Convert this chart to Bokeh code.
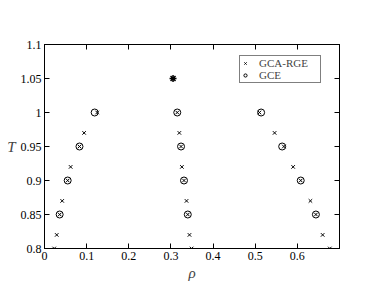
from bokeh.plotting import figure
from bokeh.models import LinearAxis, Legend, LegendItem, FixedTicker, ColumnDataSource
from bokeh.embed import file_html
from bokeh.resources import INLINE

# GCA-RGE data (three branches)
T_rge = [0.80, 0.82, 0.85, 0.87, 0.90, 0.92, 0.95, 0.97, 1.00]
rho_rge_left = [0.023, 0.029, 0.036, 0.042, 0.055, 0.062, 0.083, 0.094, 0.125]
rho_rge_mid = [0.349, 0.344, 0.340, 0.337, 0.331, 0.326, 0.324, 0.320, 0.315]
rho_rge_right = [0.677, 0.660, 0.644, 0.631, 0.608, 0.590, 0.568, 0.546, 0.510]

# GCE data
T_gce = [0.85, 0.90, 0.95, 1.00]
rho_gce_left = [0.036, 0.055, 0.083, 0.119]
rho_gce_mid = [0.340, 0.331, 0.324, 0.315]
rho_gce_right = [0.644, 0.608, 0.564, 0.514]

# critical point
T_crit = [1.05]
rho_crit = [0.305]

x_ticks = [0, 0.1, 0.2, 0.3, 0.4, 0.5, 0.6, 0.7]
y_ticks = [0.8, 0.85, 0.9, 0.95, 1.0, 1.05, 1.1]

SERIF = "Liberation Serif"

p = figure(width=368, height=283, output_backend="svg", toolbar_location=None,
           x_range=(0, 0.7), y_range=(0.8, 1.1),
           min_border_left=44, min_border_right=29, min_border_top=44, min_border_bottom=34,
           x_axis_label="ρ", y_axis_label="T")
p.grid.visible = False
p.outline_line_color = "black"
p.background_fill_color = "white"

src_rge = ColumnDataSource(dict(
    x=rho_rge_left + rho_rge_mid + rho_rge_right,
    y=T_rge * 3))
src_gce = ColumnDataSource(dict(
    x=rho_gce_left + rho_gce_mid + rho_gce_right,
    y=T_gce * 3))

r1 = p.scatter("x", "y", source=src_rge, marker="x", size=5, line_color="black", line_width=1)
r2 = p.scatter("x", "y", source=src_gce, marker="circle", size=7, fill_color=None,
               line_color="black", line_width=1)
p.scatter(rho_crit, T_crit, marker="asterisk", size=7, line_color="black", line_width=1.5)

def style(ax):
    ax.major_tick_in = 5
    ax.major_tick_out = 0
    ax.minor_tick_in = 3
    ax.minor_tick_out = 0
    ax.axis_line_color = "black"
    ax.major_tick_line_color = "black"
    ax.minor_tick_line_color = "black"
    ax.major_label_text_font = SERIF
    ax.major_label_text_font_size = "12px"
    ax.major_label_standoff = 3
    ax.major_label_text_color = "black"
    ax.axis_label_text_font = SERIF
    ax.axis_label_text_font_style = "italic"
    ax.axis_label_text_font_size = "15px"
    ax.axis_label_standoff = 2

p.xaxis.ticker = FixedTicker(ticks=x_ticks, num_minor_ticks=2)
p.yaxis.ticker = FixedTicker(ticks=y_ticks, num_minor_ticks=2)
p.xaxis.major_label_overrides = {0.7: ""}
p.yaxis.major_label_overrides = {1.0: "1", 1.1: "1.1", 0.8: "0.8"}
style(p.xaxis[0])
style(p.yaxis[0])
p.yaxis.axis_label_orientation = "horizontal"

top = LinearAxis(ticker=FixedTicker(ticks=x_ticks, num_minor_ticks=2))
style(top)
top.major_label_overrides = {t: "" for t in x_ticks}
top.major_label_standoff = 0
p.add_layout(top, "above")
right = LinearAxis(ticker=FixedTicker(ticks=y_ticks, num_minor_ticks=2))
style(right)
right.major_label_overrides = {t: "" for t in y_ticks}
right.major_label_standoff = 0
p.add_layout(right, "right")

legend = Legend(items=[LegendItem(label="GCA-RGE", renderers=[r1]),
                       LegendItem(label="GCE", renderers=[r2])],
                location=(195, 165))
legend.label_text_font = SERIF
legend.label_text_font_size = "11px"
legend.label_height = 8
legend.label_width = 60
legend.glyph_height = 8
legend.glyph_width = 8
legend.label_standoff = 10
legend.spacing = 0
legend.padding = 1
legend.margin = 0
legend.border_line_color = "black"
legend.border_line_width = 1
legend.background_fill_alpha = 1
p.add_layout(legend, "center")

open("out.html", "w").write(file_html(p, INLINE))
